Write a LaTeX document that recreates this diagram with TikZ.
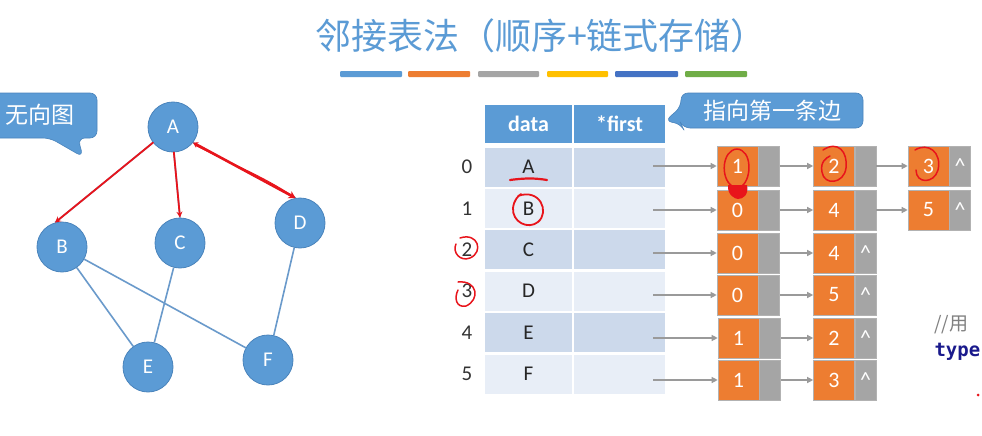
\documentclass[tikz,border=0pt]{standalone}
\usepackage{fontspec}
\setmainfont{Carlito}
\newfontfamily\cjk{Noto Sans CJK SC}
\newfontfamily\codefont{DejaVu Sans Mono}
\usetikzlibrary{arrows.meta,calc}
\definecolor{titleblue}{HTML}{5B9BD5}
\definecolor{nodeblue}{HTML}{5B9BD5}
\definecolor{nodeborder}{HTML}{4A84BC}
\definecolor{edgeblue}{HTML}{6A9ACB}
\definecolor{rowdark}{HTML}{CCD9EB}
\definecolor{rowlight}{HTML}{E8EEF7}
\definecolor{lorange}{HTML}{ED7D31}
\definecolor{lgray}{HTML}{A5A5A5}
\definecolor{arrgray}{HTML}{9A9A9A}
\definecolor{bar1}{HTML}{5B9BD5}
\definecolor{bar2}{HTML}{ED7D31}
\definecolor{bar3}{HTML}{A5A5A5}
\definecolor{bar4}{HTML}{FFC000}
\definecolor{bar5}{HTML}{4472C4}
\definecolor{bar6}{HTML}{70AD47}
\definecolor{annred}{HTML}{E8141B}
\definecolor{codeblue}{HTML}{1A1A8C}
\tikzset{
  gnode/.style={circle,fill=nodeblue,draw=nodeborder,line width=0.8pt,minimum size=50pt,inner sep=0pt,text=white,font=\fontsize{21}{24}\selectfont},
  gedge/.style={draw=edgeblue,line width=1.6pt},
  hdr/.style={fill=nodeblue,text=white,minimum height=38pt,inner sep=0pt,font=\bfseries\fontsize{22}{26}\selectfont},
  dcell/.style={minimum width=87pt,minimum height=39pt,inner sep=0pt,text=black!85,font=\fontsize{21}{24}\selectfont},
  fcell/.style={minimum width=91pt,minimum height=39pt,inner sep=0pt},
  idx/.style={text=black!80,font=\fontsize{21}{24}\selectfont},
  obox/.style={fill=lorange,draw=gray!60,line width=0.6pt,minimum width=41pt,minimum height=40pt,inner sep=0pt,text=white,font=\fontsize{22}{26}\selectfont},
  gbox/.style={fill=lgray,draw=gray!60,line width=0.6pt,minimum width=21pt,minimum height=40pt,inner sep=0pt,text=white,font=\fontsize{22}{26}\selectfont},
  parrow/.style={draw=arrgray,line width=1.2pt,-{Triangle[length=6pt,width=6pt]}},
  callout/.style={fill=nodeblue,draw=nodeborder,line width=0.6pt,rounded corners=7pt},
  redpen/.style={draw=annred,line width=1.8pt,line cap=round,line join=round},
}
\newcommand{\nullmark}{\raisebox{-5pt}{\textasciicircum}}
\begin{document}
\begin{tikzpicture}[x=1pt,y=-1pt]
\useasboundingbox[fill=white] (0,0) rectangle (982,436);

% title
\node[text=titleblue,font=\cjk\fontsize{36}{42}\selectfont] (title) at (541,36) {邻接表法（顺序+链式存储）};
\foreach \c/\xa/\xb in {bar1/340/402,bar2/408/470,bar3/478/539,bar4/547/608,bar5/615/678,bar6/685/747}
  \fill[\c,rounded corners=1pt] (\xa,71) rectangle (\xb,77);

% callout 1
\path[callout] (-8,93) -- (97,93) -- (97,138) -- (78,138) -- (83,157) -- (50,138) -- (-8,138) -- cycle;
\node[text=white,font=\cjk\fontsize{23}{26}\selectfont] (c1) at (40,115) {无向图};

% graph
\node[gnode] (A) at (173,127) {A};
\node[gnode] (B) at (62,247) {B};
\node[gnode] (C) at (180,243) {C};
\node[gnode] (D) at (300,223) {D};
\node[gnode] (E) at (148,367) {E};
\node[gnode] (F) at (268,360) {F};
\draw[gedge] (A.218) -- (B.106);
\draw[gedge] (A.272) -- (C.north);
\draw[gedge] (A.322) -- (D.100);
\draw[gedge] (B) -- (E);
\draw[gedge] (B) -- (F);
\draw[gedge] (C) -- (E);
\draw[gedge] (D) -- (F);
% red annotations on graph
\draw[redpen,-{Stealth[length=6pt,width=6pt]}] (A.218) -- (B.106);
\draw[redpen,-{Stealth[length=6pt,width=6pt]}] (A.272) -- (C.north);
\draw[redpen,line width=2.6pt,{Stealth[length=5pt,width=6pt]}-{Stealth[length=7pt,width=8pt]}] (A.322) -- (D.100);
\draw[redpen,line width=1pt] ($(A.322)+(3,3)$) .. controls (240,168) and (262,176) .. ($(D.100)+(-3,-2)$);

% table header
\node[hdr,minimum width=87pt] (hd) at (528.5,124) {data};
\node[hdr,minimum width=91pt] (hf) at (619.5,124) {*first};
% rows
\foreach \i/\l/\f in {0/A/rowdark,1/B/rowlight,2/C/rowdark,3/D/rowlight,4/E/rowdark,5/F/rowlight}{
  \node[dcell,fill=\f] (d\i) at (528.5,{167+41.4*\i}) {\l};
  \node[fcell,fill=\f] (f\i) at (619.5,{167+41.4*\i}) {};
  \node[idx] (i\i) at (467,{167+41.4*\i}) {\i};
}

% callout 2
\path[callout] (681,93) -- (863,93) -- (863,128) -- (683,128) -- (681,124) -- (665,121) -- (681,107) -- cycle;
\node[text=white,font=\cjk\fontsize{23}{26}\selectfont] (c2) at (772,111) {指向第一条边};

% linked lists
% row 0
\node[obox] (n00) at (737.5,166) {1};
\node[gbox,anchor=west] (g00) at (n00.east) {};
\node[obox] (n01) at (834,166) {2};
\node[gbox,anchor=west] (g01) at (n01.east) {};
\node[obox] (n02) at (928.5,166) {3};
\node[gbox,anchor=west] (g02) at (n02.east) {\nullmark};
% row 1
\node[obox] (n10) at (737.5,210) {0};
\node[gbox,anchor=west] (g10) at (n10.east) {};
\node[obox] (n11) at (834,210) {4};
\node[gbox,anchor=west] (g11) at (n11.east) {};
\node[obox] (n12) at (928.5,210) {5};
\node[gbox,anchor=west] (g12) at (n12.east) {\nullmark};
% row 2
\node[obox] (n20) at (737.5,253) {0};
\node[gbox,anchor=west] (g20) at (n20.east) {};
\node[obox] (n21) at (834,253) {4};
\node[gbox,anchor=west] (g21) at (n21.east) {\nullmark};
% row 3
\node[obox] (n30) at (737.5,295) {0};
\node[gbox,anchor=west] (g30) at (n30.east) {};
\node[obox] (n31) at (834,295) {5};
\node[gbox,anchor=west] (g31) at (n31.east) {\nullmark};
% row 4
\node[obox] (n40) at (738.5,338) {1};
\node[gbox,anchor=west] (g40) at (n40.east) {};
\node[obox] (n41) at (834,338) {2};
\node[gbox,anchor=west] (g41) at (n41.east) {\nullmark};
% row 5
\node[obox] (n50) at (738.5,380) {1};
\node[gbox,anchor=west] (g50) at (n50.east) {};
\node[obox] (n51) at (834,380) {3};
\node[gbox,anchor=west] (g51) at (n51.east) {\nullmark};

% arrows from table
\foreach \i in {0,...,5}{
  \draw[parrow] ($(f\i.east |- n\i0.west)+(-12,0)$) -- (n\i0.west);
  \draw[parrow] (g\i0.east) -- (n\i1.west);
}
\draw[parrow] (g01.east) -- (n02.west);
\draw[parrow] (g11.east) -- (n12.west);

% red annotations on table and lists
\draw[redpen,line width=2.2pt] (510,180) .. controls (525,178) and (535,178) .. (547,180);
\draw[redpen] (518,196) .. controls (540,188) and (550,212) .. (538,222) .. controls (528,230) and (512,222) .. (513,208) .. controls (514,200) and (518,196) .. (521,194);
\draw[redpen,line width=1.5pt] (460,238) .. controls (478,232) and (484,252) .. (470,258) .. controls (460,262) and (452,252) .. (456,244);
\draw[redpen,line width=1.5pt] (458,282) .. controls (478,280) and (480,300) .. (466,306) .. controls (456,308) and (454,298) .. (458,290);
\draw[redpen,line width=1.5pt] (732,186) .. controls (720,178) and (722,150) .. (737,149) .. controls (752,150) and (752,178) .. (742,186);
\fill[annred] (728,185) .. controls (727,195) and (735,199) .. (738,199) .. controls (743,199) and (749,195) .. (747,185) -- cycle;
\draw[redpen,line width=1.5pt] (823,150) .. controls (838,140) and (848,152) .. (846,168) .. controls (844,184) and (824,186) .. (822,172) .. controls (820,162) and (826,158) .. (830,156);
\draw[redpen,line width=1.5pt] (915,150) .. controls (928,142) and (942,152) .. (938,170) .. controls (934,184) and (916,184) .. (916,170);

% code fragment at right edge
\node[anchor=base west,text=gray,font=\cjk\fontsize{19}{22}\selectfont] (code1) at (931,330) {//用};
\node[anchor=base west,text=codeblue,font=\codefont\bfseries\fontsize{19}{22}\selectfont] (code2) at (931,356) {type};
\fill[annred] (978,395) circle (1.5);
\end{tikzpicture}
\end{document}
